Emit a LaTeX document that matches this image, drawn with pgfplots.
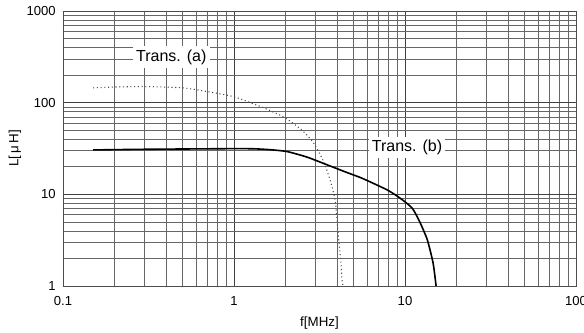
\documentclass[border=0pt]{standalone}
\usepackage{pgfplots}
\pgfplotsset{compat=1.18}
\usepackage{fontspec}
\setmainfont{Liberation Sans}
\begin{document}
\begin{tikzpicture}[x=0.75pt,y=0.75pt]
\begin{axis}[
  name=ax,
  scale only axis,
  width=384.75pt, height=206.25pt,
  xmode=log, ymode=log,
  xmin=0.1, xmax=100, ymin=1, ymax=1000,
  xtick={0.1,1,10,100}, xticklabels={0.1,1,10,100},
  ytick={1,10,100,1000}, yticklabels={1,10,100,1000},
  minor xtick={0.2,0.3,0.4,0.5,0.6,0.7,0.8,0.9,2,3,4,5,6,7,8,9,20,30,40,50,60,70,80,90},
  minor ytick={2,3,4,5,6,7,8,9,20,30,40,50,60,70,80,90,200,300,400,500,600,700,800,900},
  grid=both,
  major grid style={black!75, line width=0.45pt},
  minor grid style={black!60, line width=0.4pt},
  axis line style={black!70, line width=0.5pt},
  major tick length=0pt, minor tick length=0pt,
  tick label style={font=\fontsize{9.8}{11}\selectfont},
  yticklabel style={xshift=-2pt},
  xticklabel style={yshift=-4pt},
  xlabel={f[MHz]}, ylabel={L[\,μ\,H]},
  label style={font=\fontsize{10}{12}\selectfont},
  xlabel style={at={(rel axis cs:0.5,0)}, anchor=center, yshift=-27.5pt},
  ylabel style={at={(rel axis cs:0,0.5)}, anchor=center, yshift=36pt},
  clip=false,
]
\addplot[black!70, dotted, line width=0.8pt, smooth, tension=0.4] coordinates {
(0.15,145) (0.2,148) (0.3,150) (0.5,145) (0.7,132) (1.0,116) (1.36,94) (1.6,83)
(2.0,68) (2.5,50) (2.9,37) (3.3,24) (3.6,15.5) (3.9,8.7) (4.06,3.8) (4.2,2) (4.3,1.1) (4.35,1)
};
\addplot[black, line width=1.2pt, smooth, tension=0.35] coordinates {
(0.15,30.5) (0.3,31) (0.6,31.3) (1.0,31.5) (1.3,31.4) (1.62,30.7) (2.04,29.3) (2.67,25.5)
(3.5,21) (4.5,17.5) (5.6,15) (7.85,11.2) (9.35,9.1) (11.0,7.1) (12.2,5.0) (13.5,3.2) (14.6,1.78) (15.2,1.0)
};
\node[fill=white, anchor=west, inner sep=2.5pt, font=\fontsize{12}{14}\selectfont] at (axis cs:0.255,315) {Trans. (a)};
\node[fill=white, anchor=west, inner sep=2.5pt, font=\fontsize{12}{14}\selectfont] at (axis cs:6.1,32.5) {Trans. (b)};
\end{axis}
\pgfresetboundingbox
\path (ax.south west) ++(-63,-47) coordinate (bl);
\path (ax.north east) ++(8,11) coordinate (tr);
\path (bl) rectangle (tr);
\end{tikzpicture}
\end{document}
